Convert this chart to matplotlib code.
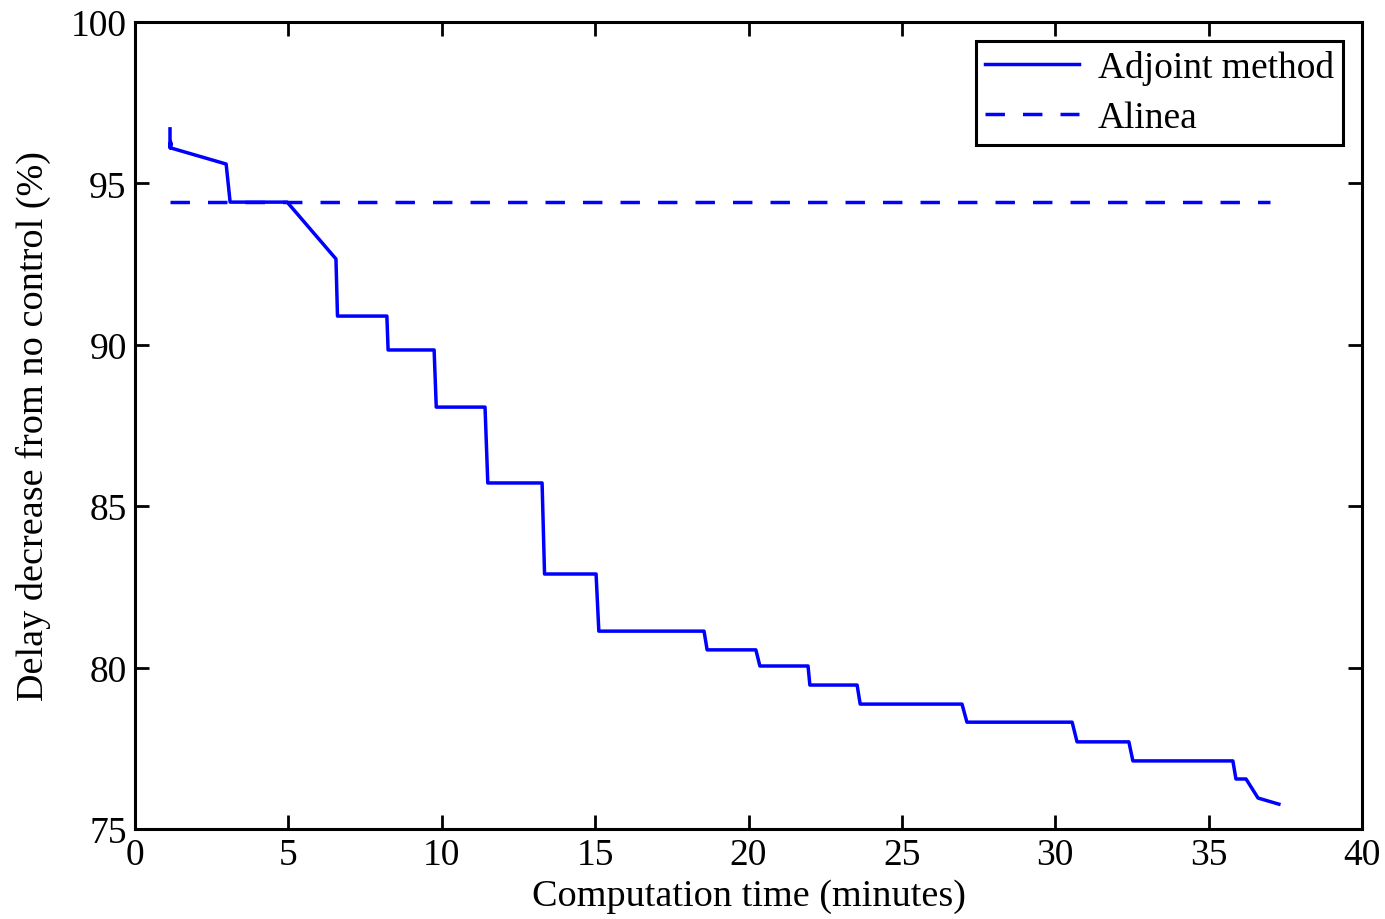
import numpy as np
import matplotlib.pyplot as plt

# Adjoint method: delay decrease vs computation time
adj_time = [1.14, 1.14, 1.16, 1.18, 1.16, 2.97, 3.10, 4.96, 6.55, 6.60, 8.21, 8.25,
            9.75, 9.82, 11.41, 11.50, 13.27, 13.35, 15.03, 15.12, 18.55, 18.65,
            20.24, 20.37, 21.94, 22.00, 23.54, 23.64, 26.96, 27.12, 30.55, 30.71,
            32.40, 32.53, 35.79, 35.89, 36.22, 36.61, 37.29]
adj_delay = [96.69, 96.10, 96.28, 96.20, 96.10, 95.60, 94.42, 94.42, 92.66, 90.89, 90.89, 89.84,
             89.84, 88.07, 88.07, 85.72, 85.72, 82.90, 82.90, 81.13, 81.13, 80.55,
             80.55, 80.05, 80.05, 79.46, 79.46, 78.87, 78.87, 78.31, 78.31, 77.70,
             77.70, 77.11, 77.11, 76.55, 76.55, 75.96, 75.77]

# Alinea baseline
alinea_time = [1.14, 37.0]
alinea_delay = [94.42, 94.42]

plt.rcParams['font.family'] = 'Liberation Serif'
plt.rcParams['font.size'] = 27

fig = plt.figure(figsize=(13.85, 9.2), dpi=100)
ax = fig.add_axes([0.0975, 0.0978, 0.8859, 0.8772])

ax.plot(adj_time, adj_delay, color='blue', lw=2.5, label='Adjoint method')
ax.plot(alinea_time, alinea_delay, color='blue', lw=2.5, ls=(0, (5.6, 5.2)), label='Alinea')

ax.set_xlim(0, 40)
ax.set_ylim(75, 100)
ax.set_xticks(np.arange(0, 41, 5))
ax.set_yticks(np.arange(75, 101, 5))
ax.tick_params(direction='in', top=True, right=True, length=10, width=2, pad=6)
for s in ax.spines.values():
    s.set_linewidth(2.2)

ax.set_xlabel('Computation time (minutes)', labelpad=5, fontsize=27.5)
ax.set_ylabel('Delay decrease from no control (%)', labelpad=14, fontsize=27.5)

leg = ax.legend(loc='upper right', fancybox=False, edgecolor='black', framealpha=1,
                handlelength=2.5, handletextpad=0.5, borderpad=0.25, labelspacing=0.42,
                borderaxespad=0.5, fontsize=27)
leg.get_frame().set_linewidth(2.2)

fig.savefig('out.png', dpi=100)
